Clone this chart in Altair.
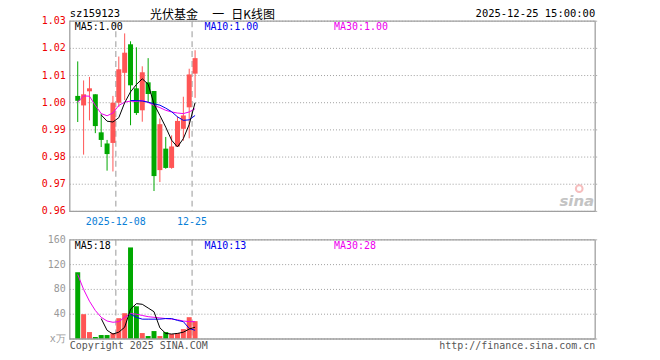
import altair as alt
import pandas as pd

# ---------------- data ----------------
day_idx = list(range(21))
opens = [1.0025, 0.9990, 1.0042, 1.0031, 0.9891, 0.9850, 0.9852, 1.0000, 1.0110, 1.0215, 1.0053,
         0.9972, 1.0075, 1.0043, 0.9752, 0.9831, 0.9760, 0.9839, 0.9904, 0.9983, 1.0107]
closes = [1.0007, 1.0031, 1.0053, 0.9914, 0.9863, 0.9811, 1.0000, 1.0123, 1.0184, 1.0064, 0.9962,
          1.0112, 1.0032, 0.9730, 0.9921, 0.9760, 0.9839, 0.9933, 0.9953, 1.0104, 1.0164]
highs = [1.0152, 1.0082, 1.0095, 1.0031, 0.9960, 0.9863, 1.0025, 1.0170, 1.0255, 1.0226, 1.0204,
         1.0134, 1.0164, 1.0043, 0.9942, 0.9874, 0.9880, 0.9950, 1.0022, 1.0125, 1.0193]
lows = [0.9929, 0.9809, 0.9935, 0.9888, 0.9837, 0.9750, 0.9747, 0.9984, 1.0010, 0.9917, 0.9955,
        0.9930, 1.0001, 0.9675, 0.9708, 0.9757, 0.9757, 0.9837, 0.9860, 0.9869, 1.0018]
volumes = [107.7, 40.0, 11.2, 3.2, 6.4, 6.4, 9.6, 33.6, 41.6, 147.7, 52.8,
           9.6, 4.8, 12.8, 4.8, 11.2, 8.0, 9.6, 16.0, 35.2, 28.8]

price_ma5 = [0.9955, 0.9932, 0.9929, 0.9945, 1.0000, 1.0040, 1.0067, 1.0088, 1.0068, 0.9995,
             0.9953, 0.9910, 0.9862, 0.9837, 0.9868, 0.9920, 1.0000]          # from day 4
price_ma10 = [1.0008, 1.0008, 1.0006, 1.0002, 0.9996, 0.9991, 0.9980, 0.9967, 0.9948, 0.9935,
              0.9937, 0.9953]                                                 # from day 9
price_ma30 = [1.0002, 1.0025, 1.0024, 0.9990, 0.9960, 0.9952, 0.9962, 0.9990, 1.0002, 1.0006,
              1.0004, 1.0009, 1.0001, 0.9990, 0.9982, 0.9972, 0.9966, 0.9962, 0.9960, 0.9966, 0.9978]
vol_ma5 = [33, 14, 8, 11, 19, 48, 57, 56, 50, 44, 18, 9, 8, 9, 11, 16, 19]     # from day 4
vol_ma10 = [40, 35, 32, 32, 32, 32, 33, 33, 30, 28, 17, 14]                    # from day 9
vol_ma30 = [104, 80, 61, 46, 35, 29, 27, 28, 35, 41, 40, 38, 36, 35, 34, 33, 32, 31, 29, 28, 28]

price_ticks = [0.96, 0.97, 0.98, 0.99, 1.00, 1.01, 1.02, 1.03]
vol_ticks = [0, 40, 80, 120, 160]
marker_idx = [7, 20]
marker_labels = ["2025-12-08", "12-25"]

# ---------------- layout constants ----------------
W = 527          # plot width
PH = 190.8       # price panel height
VT = 219.3       # top of volume panel
H = 318.8        # total height (bottom of volume panel)
RED = "#ff5555"
GREEN = "#00a800"
MONO = "DejaVu Sans Mono"
GRID = "#a0a0a0"

candles = pd.DataFrame({"i": day_idx, "open": opens, "close": closes,
                        "high": highs, "low": lows, "vol": volumes})
candles["dir"] = ["up" if c >= o else "down" for o, c in zip(opens, closes)]

x_enc = alt.X("i:Q", scale=alt.Scale(domain=[-0.5, W / 6 - 0.5], nice=False, zero=False), axis=None)
dir_color = alt.Color("dir:N", scale=alt.Scale(domain=["up", "down"], range=[RED, GREEN]), legend=None)
price_scale = alt.Scale(domain=[0.96, 1.03], range=[PH, 0], nice=False, zero=False)
vol_scale = alt.Scale(domain=[0, 160], range=[H, VT], nice=False, zero=False)


def text(txt, x, y, color="#000000", align="left", size=10, font=MONO, **kw):
    return alt.Chart(pd.DataFrame({"t": [txt]})).mark_text(
        align=align, baseline="alphabetic", font=font, fontSize=size, color=color, **kw
    ).encode(x=alt.value(x), y=alt.value(y), text="t:N")


base = alt.Chart(candles)

# ---------------- price panel ----------------
ptick_df = pd.DataFrame({"v": price_ticks})
price_grid = alt.Chart(ptick_df).mark_rule(color=GRID, strokeDash=[1, 2], strokeWidth=1).encode(
    x=alt.value(0), x2=alt.value(W + 2), y=alt.Y("v:Q", scale=price_scale, axis=None))
price_labels = alt.Chart(ptick_df).mark_text(align="right", baseline="middle", font=MONO, fontSize=10,
                                             color="#ee0000").encode(
    x=alt.value(-4), y=alt.Y("v:Q", scale=price_scale, axis=None), text=alt.Text("v:Q", format=".2f"))

markers = pd.DataFrame({"i": marker_idx, "lab": marker_labels})
dash_top = alt.Chart(markers).mark_rule(xOffset=-3, color="#b0b0b0", strokeDash=[6, 4], strokeWidth=1.3).encode(
    x=x_enc, y=alt.value(0), y2=alt.value(PH))
dash_bot = alt.Chart(markers).mark_rule(xOffset=-3, color="#b0b0b0", strokeDash=[6, 4], strokeWidth=1.3).encode(
    x=x_enc, y=alt.value(VT), y2=alt.value(H))
date_labels = alt.Chart(markers).mark_text(xOffset=-3, font=MONO, fontSize=10, color="#0a80d8",
                                           baseline="alphabetic").encode(
    x=x_enc, y=alt.value(PH + 13.5), text="lab:N")

wicks = base.mark_rule(strokeWidth=1).encode(
    x=x_enc, y=alt.Y("low:Q", scale=price_scale, axis=None), y2="high:Q", color=dir_color)
bodies = base.mark_bar(size=5, orient="vertical").encode(
    x=x_enc, y=alt.Y("open:Q", scale=price_scale, axis=None), y2="close:Q", color=dir_color)


def ma_line(vals, start, color, scale):
    df = pd.DataFrame({"i": day_idx[start:], "v": vals})
    return alt.Chart(df).mark_line(color=color, strokeWidth=1).encode(
        x=x_enc, y=alt.Y("v:Q", scale=scale, axis=None))


price_layer = alt.layer(
    price_grid, price_labels, dash_top, wicks, bodies,
    ma_line(price_ma30, 0, "#ee00ee", price_scale),
    ma_line(price_ma10, 9, "#0000ee", price_scale),
    ma_line(price_ma5, 4, "#000000", price_scale),
)

# ---------------- volume panel ----------------
vtick_df = pd.DataFrame({"v": vol_ticks})
vol_grid = alt.Chart(vtick_df).mark_rule(color=GRID, strokeDash=[1, 2], strokeWidth=1).encode(
    x=alt.value(0), x2=alt.value(W + 2), y=alt.Y("v:Q", scale=vol_scale, axis=None))
vol_labels = alt.Chart(vtick_df).transform_calculate(
    lab="datum.v == 0 ? 'x万' : format(datum.v, 'd')"
).mark_text(align="right", baseline="middle", font=MONO, fontSize=10, color="#999999").encode(
    x=alt.value(-4), y=alt.Y("v:Q", scale=vol_scale, axis=None), text="lab:N")

vol_bars = base.mark_bar(size=5, orient="vertical").encode(
    x=x_enc, y=alt.Y("vol:Q", scale=vol_scale, axis=None), y2=alt.datum(0), color=dir_color)
vol_layer = alt.layer(
    vol_grid, vol_labels, dash_bot, vol_bars,
    ma_line(vol_ma30, 0, "#ee00ee", vol_scale),
    ma_line(vol_ma10, 9, "#0000ee", vol_scale),
    ma_line(vol_ma5, 4, "#000000", vol_scale),
)

# ---------------- frames & annotations ----------------
frame_top = alt.Chart(pd.DataFrame({"k": [0]})).mark_rect(fillOpacity=0, stroke="#a0a0a0", strokeWidth=1.3).encode(
    x=alt.value(0), x2=alt.value(W), y=alt.value(0), y2=alt.value(PH))
frame_bot = alt.Chart(pd.DataFrame({"k": [0]})).mark_rect(fillOpacity=0, stroke="#a0a0a0", strokeWidth=1.3).encode(
    x=alt.value(0), x2=alt.value(W), y=alt.value(VT), y2=alt.value(H))

logo_eye = alt.Chart(pd.DataFrame({"k": [0]})).mark_point(shape="circle", size=45, filled=False,
                                                          color="#f3a3a3", strokeWidth=2).encode(
    x=alt.value(511), y=alt.value(168))
logo = text("sina", W - 1, 185.5, color="#c4c4c4", align="right", size=15, font="DejaVu Sans",
            fontStyle="italic", fontWeight="bold")

annotations = alt.layer(
    frame_top, frame_bot, date_labels, logo_eye, logo,
    text("sz159123", 0, -4.5, size=10.5),
    text("光伏基金", 80.5, -2.2, size=12, font="Noto Sans CJK SC"),
    text("一", 143, -2.2, size=12, font="Noto Sans CJK SC"),
    text("日K线图", 162, -2.2, size=12, font="Noto Sans CJK SC"),
    text("2025-12-25 15:00:00", W, -4.7, align="right", size=10.5),
    text("MA5:1.00", 5, 8.8),
    text("MA10:1.00", 135, 8.8, color="#0000ee"),
    text("MA30:1.00", 265, 8.8, color="#ee00ee"),
    text("MA5:18", 5, 228.8),
    text("MA10:13", 135, 228.8, color="#0000ee"),
    text("MA30:28", 265, 228.8, color="#ee00ee"),
    text("Copyright 2025 SINA.COM", 0, 328.5, color="#555555"),
    text("http://finance.sina.com.cn", W, 328.5, color="#555555", align="right"),
)

chart = alt.layer(price_layer, vol_layer, annotations).resolve_scale(
    y="independent"
).properties(
    width=W, height=H,
    autosize=alt.AutoSizeParams(type="none"),
    padding={"left": 62, "top": 12.7, "right": 57, "bottom": 12},
    background="white",
).configure_view(strokeWidth=0)

chart.save("out.html", embed_options={"renderer": "svg", "actions": False})
